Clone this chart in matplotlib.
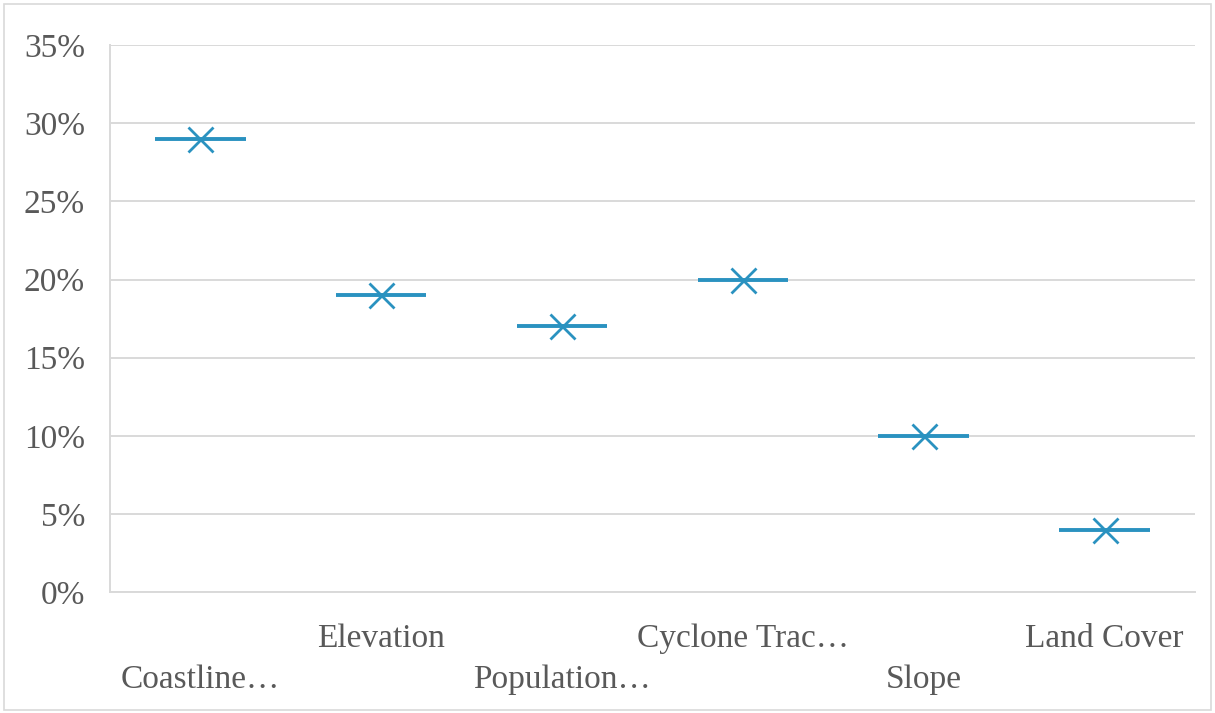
import matplotlib.pyplot as plt
from matplotlib.patches import Rectangle
from matplotlib.ticker import FixedLocator, PercentFormatter

# Factor weights (share of total)
categories = ['Coastline…', 'Elevation', 'Population…', 'Cyclone Trac…', 'Slope', 'Land Cover']
weights = [0.29, 0.19, 0.17, 0.20, 0.10, 0.04]
y_ticks = [0, 0.05, 0.10, 0.15, 0.20, 0.25, 0.30, 0.35]

LINE_COLOR = '#2A92C0'
TEXT_COLOR = '#595959'
GRID_COLOR = '#D9D9D9'

plt.rcParams['font.family'] = ['Liberation Serif', 'DejaVu Serif']

fig = plt.figure(figsize=(12.15, 7.13), dpi=100)
ax = fig.add_axes([0.0905, 0.1697, 0.893, 0.767])

positions = list(range(len(categories)))

# Flat boxes: the whole distribution collapses onto one value, mean shown as x
ax.hlines(weights, [p - 0.25 for p in positions], [p + 0.25 for p in positions],
          color=LINE_COLOR, linewidth=2.8, zorder=3)
ax.plot(positions, weights, linestyle='none', marker='x', markersize=18,
        markeredgewidth=2.0, color=LINE_COLOR, zorder=4)

ax.set_xlim(-0.5, len(categories) - 0.5)
ax.set_ylim(0, 0.35)
ax.set_yticks(y_ticks)
ax.yaxis.set_major_formatter(PercentFormatter(1.0, decimals=0))
ax.grid(axis='y', color=GRID_COLOR, linewidth=1.4)
ax.set_axisbelow(True)

# Alternate the category labels on two rows
ax.xaxis.set_major_locator(FixedLocator(positions[0::2]))
ax.xaxis.set_minor_locator(FixedLocator(positions[1::2]))
ax.set_xticklabels(categories[0::2])
ax.set_xticklabels(categories[1::2], minor=True)
ax.tick_params(axis='x', which='major', length=0, pad=52, labelsize=24, labelcolor=TEXT_COLOR)
ax.tick_params(axis='x', which='minor', length=0, pad=23, labelsize=24, labelcolor=TEXT_COLOR)
ax.tick_params(axis='y', length=0, pad=18, labelsize=24, labelcolor=TEXT_COLOR)

for side in ['top', 'right']:
    ax.spines[side].set_visible(False)
ax.spines['left'].set_color(GRID_COLOR)
ax.spines['bottom'].set_color(GRID_COLOR)
ax.spines['left'].set_linewidth(1.4)
ax.spines['bottom'].set_linewidth(1.4)

# Thin frame around the chart
fig.patches.append(Rectangle((0.003, 0.004), 0.994, 0.99, transform=fig.transFigure,
                             fill=False, edgecolor=GRID_COLOR, linewidth=1.2))

fig.savefig('out.png', dpi=100, facecolor='white')
